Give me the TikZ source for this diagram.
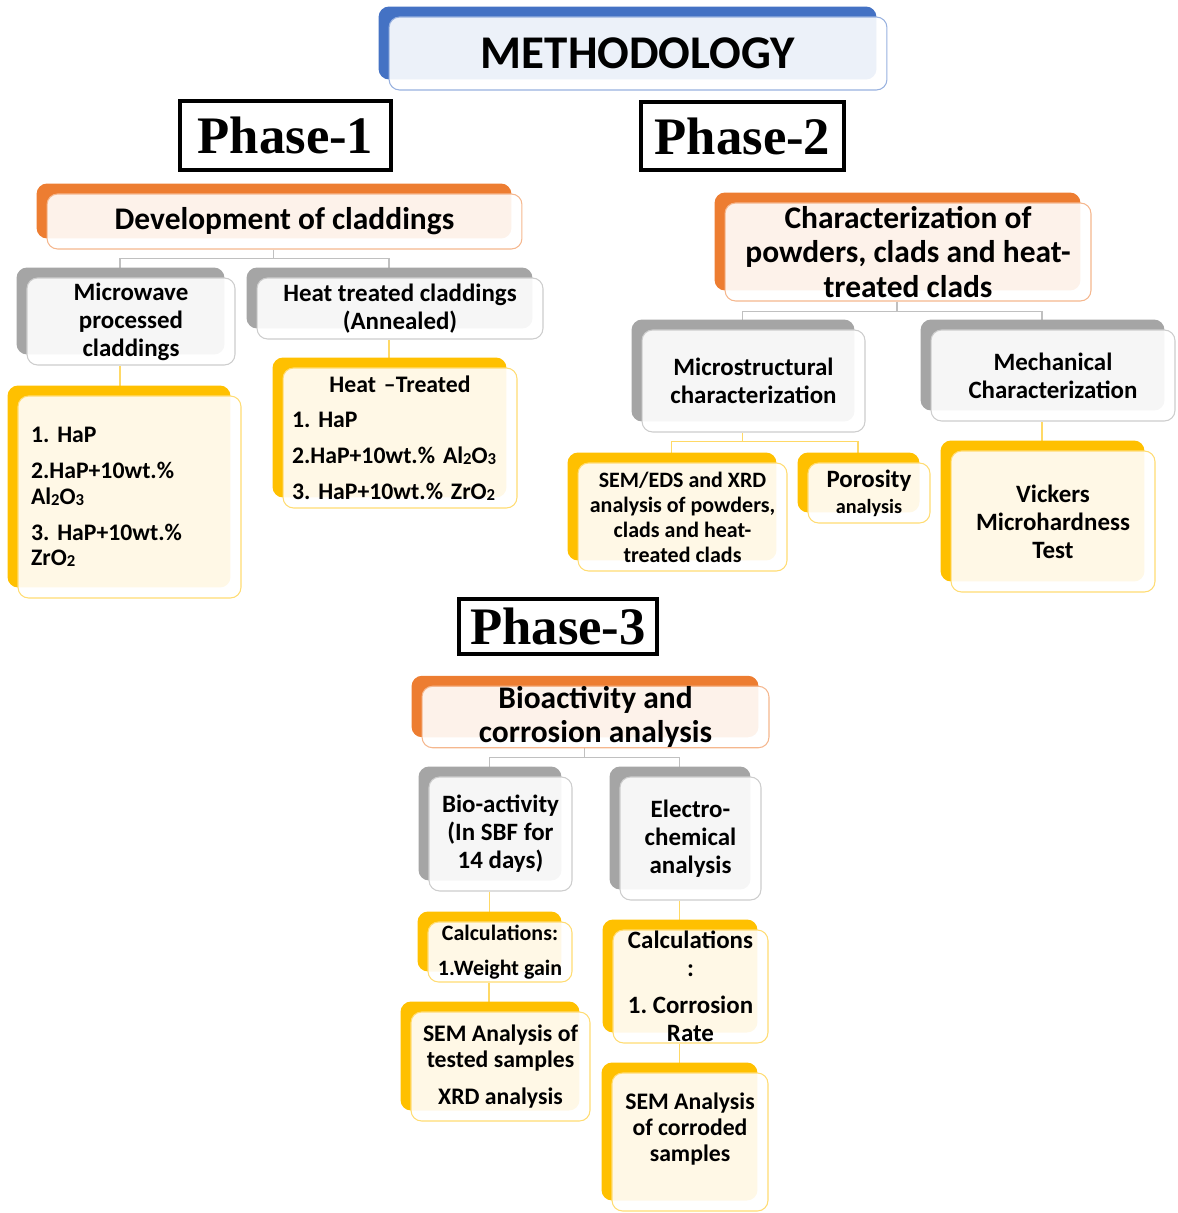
\documentclass[tikz,border=0pt]{standalone}
\usepackage{fontspec}
\setmainfont{Carlito}
\newfontfamily\phasefont{Liberation Serif}
\usetikzlibrary{calc}
\pgfdeclarelayer{bg}
\pgfsetlayers{bg,main}
\frenchspacing
\definecolor{smblue}{HTML}{4472C4}
\definecolor{smorange}{HTML}{ED7D31}
\definecolor{smgray}{HTML}{A5A5A5}
\definecolor{smyellow}{HTML}{FFC000}
\newcommand{\fsTitle}{\fontsize{26.7}{30}\selectfont}
\newcommand{\fsHead}{\fontsize{17.9}{19.6}\selectfont}
\newcommand{\fsBox}{\fontsize{14.2}{15.9}\selectfont}
\newcommand{\fsItem}{\fontsize{13.5}{14.7}\selectfont}
\newcommand{\fsSmall}{\fontsize{12.5}{14.2}\selectfont}
\newcommand{\chemsub}[1]{\raisebox{-0.5pt}{\fontsize{9.5}{10}\selectfont #1}}
\tikzset{
  card/.style={rectangle, rounded corners=6pt, draw=#1!55, line width=0.6pt,
    fill=white, fill opacity=0.9, text opacity=1, align=center, inner sep=0pt,
    preaction={fill=#1, fill opacity=1, draw=none,
      transform canvas={shift={(-0.21cm,0.21cm)}}}},
  head/.style={card=smorange, font=\bfseries\fsHead},
  sub/.style={card=smgray, font=\bfseries\fsBox},
  leaf/.style={card=smyellow, font=\bfseries\fsItem},
  phasebox/.style={draw, line width=2.4pt, inner sep=0pt,
    font=\phasefont\bfseries\fontsize{30}{32}\selectfont},
  conn/.style={draw=smgray!70, line width=0.6pt},
  yconn/.style={draw=smyellow!60, line width=0.6pt},
  sh/.style={xshift=-0.22cm}
}
\begin{document}
\begin{tikzpicture}[x=0.02cm, y=-0.02cm]
\useasboundingbox (0,0) rectangle (1177,1213);

% title and phase labels
\node[card=smblue, font=\bfseries\fsTitle, minimum width=9.96cm, minimum height=1.46cm] (meth) at (638,53.5) {METHODOLOGY};
\node[phasebox, minimum width=4.22cm, minimum height=1.38cm] (ph1) at (285.5,135.5) {Phase-1};
\node[phasebox, minimum width=4.06cm, minimum height=1.36cm] (ph2) at (742.5,136) {Phase-2};
\node[phasebox, minimum width=3.96cm, minimum height=1.1cm] (ph3) at (558,626.5) {Phase-3};

% phase 1
\node[head, minimum width=9.5cm, minimum height=1.1cm] (dev) at (284.5,221.5) {Development of claddings};
\node[sub, minimum width=4.16cm, minimum height=1.74cm] (micro) at (131,321.5) {Microwave\\processed\\claddings};
\node[sub, minimum width=5.72cm, minimum height=1.22cm] (heat) at (400,308.5) {Heat treated claddings\\(Annealed)};
\node[leaf, align=left, text width=3.94cm, inner xsep=0.26cm, minimum height=4.04cm] (list1) at (129.5,497)
  {1. HaP\\[5.7pt]
   2.HaP+10wt.\%\\
   Al\chemsub{2}O\chemsub{3}\\[5.7pt]
   3. HaP+10wt.\%\\
   ZrO\chemsub{2}};
\node[leaf, align=left, text width=4.32cm, inner xsep=0.18cm, minimum height=2.8cm] (list2) at (400,438)
  {\mbox{}\hfill Heat --Treated\hfill\mbox{}\\[5.7pt]
   1. HaP\\[5.7pt]
   2.HaP+10wt.\% Al\chemsub{2}O\chemsub{3}\\[5.7pt]
   3. HaP+10wt.\% ZrO\chemsub{2}};

% phase 2
\node[head, minimum width=7.32cm, minimum height=1.96cm] (char) at (908,252) {Characterization of\\powders, clads and heat-\\treated clads};
\node[sub, minimum width=4.46cm, minimum height=2.04cm] (mstr) at (753.5,381) {Microstructural\\characterization};
\node[sub, minimum width=4.88cm, minimum height=1.82cm] (mech) at (1053,375.5) {Mechanical\\Characterization};
\node[leaf, font=\bfseries\fsSmall, minimum width=4.18cm, minimum height=2.16cm] (sem) at (682.5,517) {SEM/EDS and XRD\\analysis of powders,\\clads and heat-\\treated clads};
\node[leaf, minimum width=2.44cm, minimum height=1.2cm] (poro) at (869,493) {{\fsBox Porosity}\\{\fontsize{11.5}{13}\selectfont analysis}};
\node[leaf, font=\bfseries\fsBox, minimum width=4.08cm, minimum height=2.82cm] (vick) at (1053,521.5) {Vickers\\Microhardness\\Test};

% phase 3
\node[head, minimum width=6.94cm, minimum height=1.2cm] (bio) at (595.5,717) {Bioactivity and\\corrosion analysis};
\node[sub, minimum width=2.86cm, minimum height=2.28cm] (bioact) at (500.5,834) {Bio-activity\\(In SBF for\\14 days)};
\node[sub, minimum width=2.82cm, minimum height=2.46cm] (elec) at (690.5,838.5) {Electro-\\chemical\\analysis};
\node[leaf, font=\bfseries\fsSmall, minimum width=2.88cm, minimum height=1.2cm] (calc1) at (500,952) {Calculations:\\[5.3pt]1.Weight gain};
\node[leaf, minimum width=3.58cm, minimum height=2.18cm] (sem1) at (500.5,1066.5) {SEM Analysis of\\tested samples\\[6pt]XRD analysis};
\node[leaf, font=\bfseries\fsBox, minimum width=3.1cm, minimum height=2.26cm] (calc2) at (690.5,986.5) {Calculations\\:\\[5pt]1. Corrosion\\Rate};
\node[leaf, minimum width=3.12cm, minimum height=2.76cm] (sem2) at (690,1142) {SEM Analysis\\of corroded\\samples\\[2pt]\mbox{}};

% connectors
\begin{pgfonlayer}{bg}
\draw[conn] ([sh]dev.south) -- ++(0,9) coordinate (j1);
\draw[conn] (j1) -| ([sh]micro.north);
\draw[conn] (j1) -| ([sh]heat.north);
\draw[yconn] ([sh]micro.south) -- ([sh]micro.south |- list1.north);
\draw[yconn] ([sh]heat.south) -- ([sh]heat.south |- list2.north);

\draw[conn] ([sh]char.south) -- ++(0,10) coordinate (j2);
\draw[conn] (j2) -| ([sh]mstr.north);
\draw[conn] (j2) -| ([sh]mech.north);
\draw[yconn] ([sh]mstr.south) -- ++(0,9) coordinate (j3);
\draw[yconn] (j3) -| ([sh]sem.north);
\draw[yconn] (j3) -| ([sh]poro.north);
\draw[yconn] ([sh]mech.south) -- ([sh]mech.south |- vick.north);

\draw[conn] ([sh]bio.south) -- ++(0,9) coordinate (j4);
\draw[conn] (j4) -| ([sh]bioact.north);
\draw[conn] (j4) -| ([sh]elec.north);
\draw[yconn] ([sh]bioact.south) -- ([sh]bioact.south |- calc1.north);
\draw[yconn] ([sh]calc1.south) -- ([sh]calc1.south |- sem1.north);
\draw[yconn] ([sh]elec.south) -- ([sh]elec.south |- calc2.north);
\draw[yconn] ([sh]calc2.south) -- ([sh]calc2.south |- sem2.north);
\end{pgfonlayer}
\end{tikzpicture}
\end{document}
